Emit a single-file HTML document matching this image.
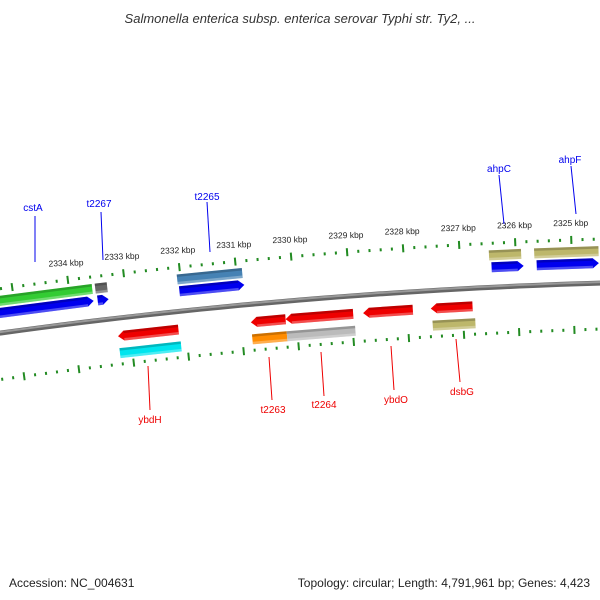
<!DOCTYPE html>
<html><head><meta charset="utf-8"><style>
body{margin:0;background:#fff;width:600px;height:600px;overflow:hidden;font-family:"Liberation Sans",sans-serif}
svg{display:block}
</style></head><body>
<svg id="chart" width="600" height="600" xmlns="http://www.w3.org/2000/svg" font-family="Liberation Sans, sans-serif">
<text x="300" y="23" text-anchor="middle" font-size="13" font-style="italic" fill="#333">Salmonella enterica subsp. enterica serovar Typhi str. Ty2, ...</text>
<g id="map"></g>
<g id="labels"></g>
<text x="9" y="587" font-size="12" fill="#222">Accession: NC_004631</text>
<text x="590" y="587" font-size="12" fill="#222" text-anchor="end">Topology: circular; Length: 4,791,961 bp; Genes: 4,423</text>
</svg>
<script>
const tickKbp=[2335,2334,2333,2332,2331,2330,2329,2328,2327,2326,2325,2324];
const featStart=[-300,-202,-300,-201,-120,-119,191,236,193,238,-185,-51,-16,62,130,-185,-51,-16,131];
const featEnd=[-205,-190,-205,-190,-55,-54,223,300,225,300,-124,-16,52,112,172,-123,-16,53,174];
const featTrack=[0,0,1,1,0,1,0,0,1,1,2,2,2,2,2,3,3,3,3];
const featColor=['#33cc33','#666666','#0000ee','#0000ee','#4682b4','#0000ee','#bdb76b','#bdb76b','#0000ee','#0000ee','#ee0000','#ee0000','#ee0000','#ee0000','#ee0000','#00e5ee','#ff8c00','#bbbbbb','#bdb76b'];
const featDir=[0,0,1,1,0,1,0,0,1,1,-1,-1,-1,-1,-1,0,0,0,0];
const labelText=['cstA','t2267','t2265','ahpC','ahpF','ybdH','t2263','t2264','ybdO','dsbG'];
const labelX=[33,99,207,499,570,150,273,324,396,462];
const labelY=[211,207,200,172,163,423,413,408,403,395];
const lineTop=[[35,216,35,262],[101,212,103,260],[207,202,210,252],[499,175,504,224],[571,166,576,214]];
const lineBot=[[148,366,150,410],[269,357,272,400],[321,352,324,396],[391,346,394,390],[456,339,460,382]];
const NS='http://www.w3.org/2000/svg';
const map=document.getElementById('map'),lab=document.getElementById('labels');
function mk(tag,attrs,parent){const e=document.createElementNS(NS,tag);for(const k in attrs)e.setAttribute(k,attrs[k]);parent.appendChild(e);return e;}
const R=5625,phi0=-0.0831,CX=300-R*Math.sin(phi0),CY=300+R*Math.cos(phi0);
function P(s,off){const ph=phi0+s/R,r=R-off;return [CX+r*Math.sin(ph),CY-r*Math.cos(ph)];}
function pts(list){return list.map(p=>{const q=P(p[0],p[1]);return q[0].toFixed(2)+','+q[1].toFixed(2);}).join(' ');}
const kpx=55.7;
function xOf(kbp){return -228+(2334-kbp)*kpx;}
const trackY=[[-37,-27],[-25,-15],[13,23],[30,40]];
// backbone
const bl=[];for(let s=-340;s<=340;s+=20)bl.push([s,0]);
[['#666',5],['#999',2]].forEach((st,i)=>{
  const b=mk('polyline',{points:pts(bl),fill:'none',stroke:st[0],'stroke-width':st[1],transform:i?'translate(0,-1)':''},map);
  
  
});
// ticks
tickKbp.forEach(k=>{
  for(let i=0;i<5;i++){
    const x=xOf(k)-i*kpx/5;
    if(x<-330||x>330)continue;
    [-44,46].forEach(off=>{
      const h=i===0?8:3;
      const t=mk('polygon',{points:pts([[x-1,off-h/2],[x+1,off-h/2],[x+1,off+h/2],[x-1,off+h/2]]),fill:'#228b22'},map);
      
      
    });
  }
  const lx=xOf(k);
  if(lx>-260&&lx<300){
    const q=P(lx,-58),ang=(phi0+lx/R)*180/Math.PI;
    const tt=mk('text',{x:q[0],y:q[1],'font-size':'8.5','text-anchor':'middle',fill:'#222',transform:'rotate('+(ang*0.3)+' '+q[0]+' '+q[1]+')'},map);
    tt.textContent=k+' kbp';
    
    
  }
});
// features
featStart.forEach((s,i)=>{
  const e=featEnd[i],[y0,y1]=trackY[featTrack[i]],c=featColor[i],d=featDir[i],ym=(y0+y1)/2,a=6;
  let p;
  if(d===1)p=[[s,y0],[e-a,y0],[e,ym],[e-a,y1],[s,y1]];
  else if(d===-1)p=[[e,y0],[s+a,y0],[s,ym],[s+a,y1],[e,y1]];
  else p=[[s,y0],[e,y0],[e,y1],[s,y1]];
  const f=mk('polygon',{points:pts(p),fill:c},map);
  
  
  const top=mk('polygon',{points:pts([[s+(d===-1?a:0),y0],[e-(d===1?a:0),y0],[e-(d===1?a:0),y0+2.5],[s+(d===-1?a:0),y0+2.5]]),fill:'#000','fill-opacity':0.2},map);
  
  
  const bot=mk('polygon',{points:pts([[s+(d===-1?a:0),y1-2.5],[e-(d===1?a:0),y1-2.5],[e-(d===1?a:0),y1],[s+(d===-1?a:0),y1]]),fill:'#fff','fill-opacity':0.3},map);
  
  
});
// labels
labelText.forEach((t,i)=>{
  const top=i<5,l=top?lineTop[i]:lineBot[i-5];
  const ln=mk('line',{x1:l[0],y1:l[1],x2:l[2],y2:l[3],stroke:top?'#0000ee':'#ee0000','stroke-width':1},lab);
  
  
  const tx=mk('text',{x:labelX[i],y:labelY[i],'font-size':'10','text-anchor':'middle',fill:top?'#0000ee':'#ee0000'},lab);
  tx.textContent=t;
  
  
});
</script>
</body></html>
